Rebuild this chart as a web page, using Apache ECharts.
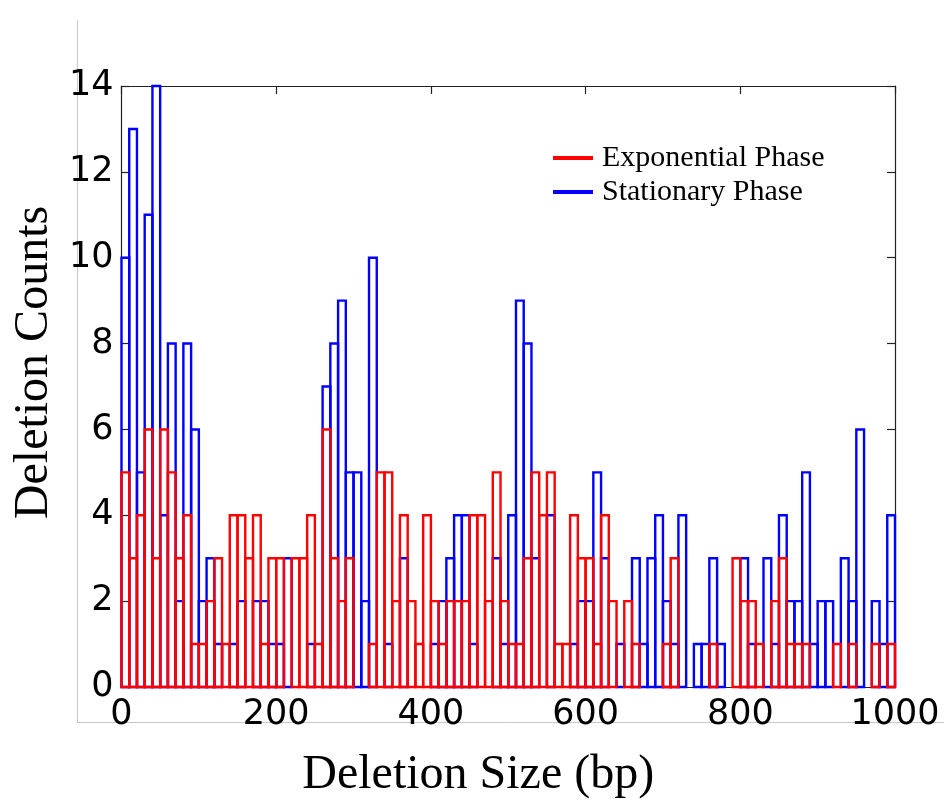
<!DOCTYPE html>
<html>
<head>
<meta charset="utf-8">
<script src="https://cdn.jsdelivr.net/npm/echarts@6/dist/echarts.min.js"></script>
<style>
html,body{margin:0;padding:0;background:#fff;}
#chart{width:944px;height:803px;}
</style>
</head>
<body>
<div id="chart"></div>
<script>
// Histogram bins: 10 bp wide, 0..1000 bp
const binWidth = 10;
const binStarts = Array.from({length: 100}, (_, i) => i * binWidth);

// Exponential phase counts per bin
const exponentialCounts = [
  5,3,4,6,3,6,5,3,4,1,1,2,3,1,4,4,3,
  4,1,3,3,0,3,3,4,1,6,3,2,3,0,0,1,5,
  5,2,4,2,1,4,2,1,2,2,2,4,4,2,5,2,
  1,1,3,5,4,5,1,1,4,3,3,1,4,2,0,2,1,
  0,0,0,1,3,0,0,0,0,1,0,0,3,2,2,1,
  0,2,3,1,1,1,0,0,0,1,0,1,0,0,1,0,1
];
// Stationary phase counts per bin
const stationaryCounts = [
  10,13,5,11,14,4,8,2,8,6,2,3,1,0,1,2,0,
  2,2,1,1,3,0,0,1,0,7,8,9,5,5,2,10,0,
  1,0,3,0,0,0,1,2,3,4,4,1,0,0,3,1,
  4,9,8,3,0,4,0,0,1,2,2,5,3,0,1,0,3,
  1,3,4,2,1,4,0,1,1,3,1,0,0,3,1,0,
  3,1,4,2,2,5,1,2,2,0,3,2,6,0,2,1,4
];

const xTicks = [0, 200, 400, 600, 800, 1000];
const yTicks = [0, 2, 4, 6, 8, 10, 12, 14];

const seriesNames = ['Exponential Phase', 'Stationary Phase'];
const seriesColors = ['#ff0000', '#0000ff'];

function toData(counts) {
  return counts.map((c, i) => [binStarts[i], binStarts[i] + binWidth, c]);
}

function makeRender(color) {
  return function (params, api) {
    const x0 = api.value(0), x1 = api.value(1), c = api.value(2);
    if (!c) return null;
    const p0 = api.coord([x0, c]);
    const p1 = api.coord([x1, 0]);
    return {
      type: 'rect',
      shape: { x: p0[0], y: p0[1], width: p1[0] - p0[0], height: p1[1] - p0[1] },
      style: { fill: 'none', stroke: color, lineWidth: 2.4 }
    };
  };
}

const chart = echarts.init(document.getElementById('chart'), null, { renderer: 'canvas' });

const axisLineStyle = { color: '#222', width: 1.2 };
const tickFont = { fontFamily: 'DejaVu Sans', fontSize: 35, color: '#000' };

chart.setOption({
  backgroundColor: '#fff',
  animation: false,
  grid: { left: 121.5, right: 49, top: 86, bottom: 116, containLabel: false, outerBoundsMode: 'none' },
  legend: {
    orient: 'vertical',
    left: 548,
    top: 138,
    data: seriesNames,
    icon: 'rect',
    itemWidth: 40,
    itemHeight: 4,
    itemGap: 4,
    textStyle: { fontFamily: 'Liberation Serif', fontSize: 30, color: '#000', padding: [0, 0, 0, 4] }
  },
  xAxis: [
    {
      type: 'value', min: 0, max: 1000, interval: 200, position: 'bottom',
      name: 'Deletion Size (bp)', nameLocation: 'middle', nameGap: 64,
      nameTextStyle: { fontFamily: 'Liberation Serif', fontSize: 48, color: '#000', padding: [0, 60, 0, 0] },
      axisLine: { show: true, onZero: false, lineStyle: axisLineStyle },
      axisTick: { show: true, inside: true, length: 8, lineStyle: axisLineStyle },
      axisLabel: Object.assign({ margin: 10, formatter: v => String(v) }, tickFont),
      splitLine: { show: false }
    },
    {
      type: 'value', min: 0, max: 1000, interval: 200, position: 'top',
      axisLine: { show: true, onZero: false, lineStyle: axisLineStyle },
      axisTick: { show: true, inside: true, length: 8, lineStyle: axisLineStyle },
      axisLabel: { show: false },
      splitLine: { show: false }
    }
  ],
  yAxis: [
    {
      type: 'value', min: 0, max: 14, interval: 2, position: 'left',
      name: 'Deletion Counts', nameLocation: 'middle', nameGap: 53,
      nameTextStyle: { fontFamily: 'Liberation Serif', fontSize: 48, color: '#000', padding: [0, 0, 0, 48] },
      axisLine: { show: true, onZero: false, lineStyle: axisLineStyle },
      axisTick: { show: true, inside: true, length: 8, lineStyle: axisLineStyle },
      axisLabel: Object.assign({ margin: 8 }, tickFont),
      splitLine: { show: false }
    },
    {
      type: 'value', min: 0, max: 14, interval: 2, position: 'right',
      axisLine: { show: true, onZero: false, lineStyle: axisLineStyle },
      axisTick: { show: true, inside: true, length: 8, lineStyle: axisLineStyle },
      axisLabel: { show: false },
      splitLine: { show: false }
    }
  ],
  series: [
    {
      name: seriesNames[1], type: 'custom', xAxisIndex: 0, yAxisIndex: 0,
      itemStyle: { color: seriesColors[1] },
      encode: { x: [0, 1], y: 2 },
      renderItem: makeRender(seriesColors[1]),
      data: toData(stationaryCounts), z: 2
    },
    {
      name: seriesNames[0], type: 'custom', xAxisIndex: 0, yAxisIndex: 0,
      itemStyle: { color: seriesColors[0] },
      encode: { x: [0, 1], y: 2 },
      renderItem: makeRender(seriesColors[0]),
      data: toData(exponentialCounts), z: 3
    }
  ],
  graphic: [
    { type: 'line', shape: { x1: 77.5, y1: 20, x2: 77.5, y2: 722 }, style: { stroke: '#c8c8c8', lineWidth: 1 }, silent: true },
    { type: 'line', shape: { x1: 77, y1: 722.5, x2: 944, y2: 722.5 }, style: { stroke: '#c8c8c8', lineWidth: 1 }, silent: true }
  ]
});
</script>
</body>
</html>
